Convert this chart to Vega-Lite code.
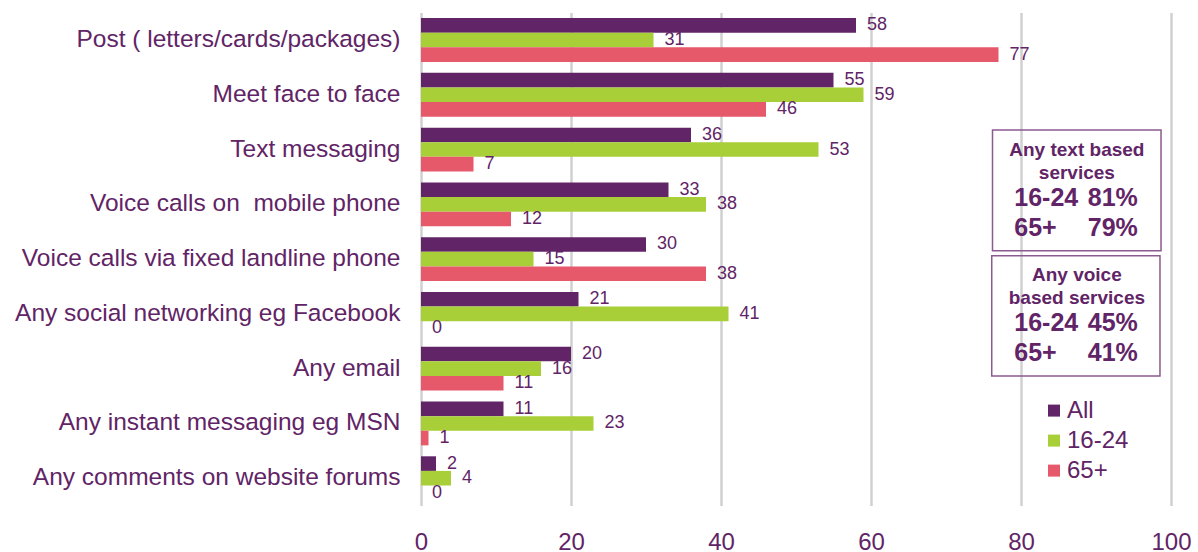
{
  "$schema": "https://vega.github.io/schema/vega-lite/v6.json",
  "width": 750,
  "height": 493,
  "autosize": "none",
  "padding": {"left": 421, "top": 12.6, "right": 27, "bottom": 46.4},
  "config": {"view": {"stroke": null}, "font": "Liberation Sans"},
  "layer": [
    {
      "data": {"values": [
        {"category": "Post ( letters/cards/packages)", "group": "All", "value": 58},
        {"category": "Post ( letters/cards/packages)", "group": "16-24", "value": 31},
        {"category": "Post ( letters/cards/packages)", "group": "65+", "value": 77},
        {"category": "Meet face to face\u00a0", "group": "All", "value": 55},
        {"category": "Meet face to face\u00a0", "group": "16-24", "value": 59},
        {"category": "Meet face to face\u00a0", "group": "65+", "value": 46},
        {"category": "Text messaging\u00a0", "group": "All", "value": 36},
        {"category": "Text messaging\u00a0", "group": "16-24", "value": 53},
        {"category": "Text messaging\u00a0", "group": "65+", "value": 7},
        {"category": "Voice calls on\u00a0 mobile phone\u00a0", "group": "All", "value": 33},
        {"category": "Voice calls on\u00a0 mobile phone\u00a0", "group": "16-24", "value": 38},
        {"category": "Voice calls on\u00a0 mobile phone\u00a0", "group": "65+", "value": 12},
        {"category": "Voice calls via fixed landline phone\u00a0", "group": "All", "value": 30},
        {"category": "Voice calls via fixed landline phone\u00a0", "group": "16-24", "value": 15},
        {"category": "Voice calls via fixed landline phone\u00a0", "group": "65+", "value": 38},
        {"category": "Any social networking eg Facebook", "group": "All", "value": 21},
        {"category": "Any social networking eg Facebook", "group": "16-24", "value": 41},
        {"category": "Any social networking eg Facebook", "group": "65+", "value": 0},
        {"category": "Any email", "group": "All", "value": 20},
        {"category": "Any email", "group": "16-24", "value": 16},
        {"category": "Any email", "group": "65+", "value": 11},
        {"category": "Any instant messaging eg MSN", "group": "All", "value": 11},
        {"category": "Any instant messaging eg MSN", "group": "16-24", "value": 23},
        {"category": "Any instant messaging eg MSN", "group": "65+", "value": 1},
        {"category": "Any comments on website forums", "group": "All", "value": 2},
        {"category": "Any comments on website forums", "group": "16-24", "value": 4},
        {"category": "Any comments on website forums", "group": "65+", "value": 0}
      ]},
      "encoding": {
        "y": {
          "field": "category", "type": "nominal", "sort": null,
          "scale": {"paddingInner": 0.2, "paddingOuter": 0.1},
          "axis": {"title": null, "domain": false, "ticks": false, "labelFontSize": 24.5, "labelColor": "#612466", "labelPadding": 21, "labelLimit": 420}
        },
        "x": {
          "field": "value", "type": "quantitative",
          "scale": {"domain": [0, 100]},
          "axis": {"title": null, "domain": false, "ticks": false, "values": [0, 20, 40, 60, 80, 100], "labelOverlap": false, "labelFlush": false, "grid": true, "gridColor": "#d0d0d0", "gridWidth": 2.5, "labelFontSize": 24, "labelColor": "#612466", "labelPadding": 25}
        },
        "yOffset": {"field": "group", "type": "nominal", "sort": ["All", "16-24", "65+"], "scale": {"paddingInner": 0, "paddingOuter": 0}}
      },
      "layer": [
        {
          "mark": {"type": "bar"},
          "encoding": {
            "color": {
              "field": "group", "type": "nominal",
              "scale": {"domain": ["All", "16-24", "65+"], "range": ["#612466", "#a8cf38", "#e5596a"]},
              "legend": {"orient": "none", "legendX": 621, "legendY": 386, "title": null, "symbolType": "square", "symbolSize": 144, "symbolStrokeWidth": 0, "labelFontSize": 24, "labelColor": "#612466", "rowPadding": 6, "labelOffset": 1}
            }
          }
        },
        {
          "mark": {"type": "text", "align": "left", "baseline": "middle", "dx": 11, "fontSize": 18, "color": "#612466"},
          "encoding": {"text": {"field": "value", "type": "quantitative"}}
        }
      ]
    },
    {
      "data": {"values": [{"box": "text"}]},
      "mark": {"type": "rect", "fill": "transparent", "stroke": "#8b5a8f", "strokeWidth": 1.5},
      "encoding": {
        "x": {"datum": 76.2}, "x2": {"datum": 98.67},
        "y": {"datum": 2.143, "type": "quantitative", "scale": {"domain": [0, 9], "reverse": true}, "axis": null},
        "y2": {"datum": 4.346}
      }
    },
    {
      "data": {"values": [{"box": "voice"}]},
      "mark": {"type": "rect", "fill": "transparent", "stroke": "#8b5a8f", "strokeWidth": 1.5},
      "encoding": {
        "x": {"datum": 76.1}, "x2": {"datum": 98.53},
        "y": {"datum": 4.437, "type": "quantitative", "scale": {"domain": [0, 9], "reverse": true}, "axis": null},
        "y2": {"datum": 6.634}
      }
    },
    {
      "data": {"values": [{"box": "text"}]},
      "mark": {"type": "text", "text": ["Any text based", "services"], "align": "center", "baseline": "middle", "fontSize": 19, "fontWeight": "bold", "lineHeight": 23, "color": "#612466"},
      "encoding": {
        "x": {"datum": 87.45},
        "y": {"datum": 2.508, "type": "quantitative", "scale": {"domain": [0, 9], "reverse": true}, "axis": null}
      }
    },
    {
      "data": {"values": [{"box": "text"}]},
      "mark": {"type": "text", "text": ["16-24", "65+"], "align": "left", "baseline": "middle", "fontSize": 25, "fontWeight": "bold", "lineHeight": 30, "color": "#612466"},
      "encoding": {
        "x": {"datum": 79.1},
        "y": {"datum": 3.385, "type": "quantitative", "scale": {"domain": [0, 9], "reverse": true}, "axis": null}
      }
    },
    {
      "data": {"values": [{"box": "text"}]},
      "mark": {"type": "text", "text": ["81%", "79%"], "align": "left", "baseline": "middle", "fontSize": 25, "fontWeight": "bold", "lineHeight": 30, "color": "#612466"},
      "encoding": {
        "x": {"datum": 88.9},
        "y": {"datum": 3.385, "type": "quantitative", "scale": {"domain": [0, 9], "reverse": true}, "axis": null}
      }
    },
    {
      "data": {"values": [{"box": "voice"}]},
      "mark": {"type": "text", "text": ["Any voice", "based services"], "align": "center", "baseline": "middle", "fontSize": 19, "fontWeight": "bold", "lineHeight": 23, "color": "#612466"},
      "encoding": {
        "x": {"datum": 87.45},
        "y": {"datum": 4.79, "type": "quantitative", "scale": {"domain": [0, 9], "reverse": true}, "axis": null}
      }
    },
    {
      "data": {"values": [{"box": "voice"}]},
      "mark": {"type": "text", "text": ["16-24", "65+"], "align": "left", "baseline": "middle", "fontSize": 25, "fontWeight": "bold", "lineHeight": 30, "color": "#612466"},
      "encoding": {
        "x": {"datum": 79.1},
        "y": {"datum": 5.667, "type": "quantitative", "scale": {"domain": [0, 9], "reverse": true}, "axis": null}
      }
    },
    {
      "data": {"values": [{"box": "voice"}]},
      "mark": {"type": "text", "text": ["45%", "41%"], "align": "left", "baseline": "middle", "fontSize": 25, "fontWeight": "bold", "lineHeight": 30, "color": "#612466"},
      "encoding": {
        "x": {"datum": 88.9},
        "y": {"datum": 5.667, "type": "quantitative", "scale": {"domain": [0, 9], "reverse": true}, "axis": null}
      }
    }
  ],
  "resolve": {"scale": {"y": "independent"}}
}
